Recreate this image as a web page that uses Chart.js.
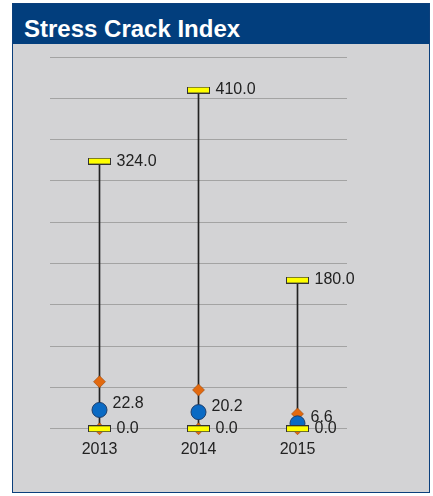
<!DOCTYPE html>
<html>
<head>
<meta charset="utf-8">
<script src="https://cdn.jsdelivr.net/npm/chart.js@4.4.1/dist/chart.umd.min.js"></script>
<style>
  body { margin: 0; background: #fff; font-family: "Liberation Sans", Arial, sans-serif; }
  #panel {
    position: absolute; left: 12px; top: 3px; width: 416px; height: 488px;
    border: 1px solid #0b3f7c; background: #d3d3d5;
  }
  #header {
    height: 40px; background: #023e7d; color: #fff; overflow: hidden;
    font-weight: bold; font-size: 24px; line-height: 50px; padding-left: 11px;
  }
  #wrap { position: absolute; left: 0; top: 40px; width: 416px; height: 448px; }
</style>
</head>
<body>
<div id="panel">
  <div id="header">Stress Crack Index</div>
  <div id="wrap"><canvas id="chart"></canvas></div>
</div>
<script>
// dữ liệu
const categories = ["2013", "2014", "2015"];
const maxValues = [324.0, 410.0, 180.0];
const minValues = [0.0, 0.0, 0.0];
const meanValues = [22.8, 20.2, 6.6];
const midValues = [57, 47, 18];
const yTicks = [0, 50, 100, 150, 200, 250, 300, 350, 400, 450];

// yellow bar marker
const barMark = document.createElement("canvas");
barMark.width = 23;
barMark.height = 7;
const bctx = barMark.getContext("2d");
bctx.fillStyle = "#ffff00";
bctx.fillRect(1, 1, 21, 5);
bctx.strokeStyle = "#333";
bctx.lineWidth = 1;
bctx.strokeRect(0.5, 0.5, 22, 6);

// labels next to markers
const valueLabels = {
  id: "valueLabels",
  afterDatasetsDraw(chart) {
    const ctx = chart.ctx;
    ctx.save();
    ctx.font = "16px 'Liberation Sans', Arial, sans-serif";
    ctx.fillStyle = "#222";
    ctx.textBaseline = "middle";
    chart.data.datasets.forEach((ds, i) => {
      if (!ds.showLabel) return;
      chart.getDatasetMeta(i).data.forEach((pt, j) => {
        ctx.fillText(ds.data[j].toFixed(1), pt.x + ds.labelDx, pt.y + ds.labelDy);
      });
    });
    ctx.restore();
  },
};

const chart = new Chart(document.getElementById("chart").getContext("2d"), {
  data: {
    labels: categories,
    datasets: [
      {
        type: "bar",
        data: categories.map((c, i) => [minValues[i], maxValues[i]]),
        backgroundColor: "#222",
        barThickness: 1,
        order: 3,
      },
      {
        type: "line",
        data: midValues,
        showLine: false,
        clip: false,
        pointStyle: "rectRot",
        pointRadius: 6,
        backgroundColor: "#e2690f",
        borderColor: "#8a3a00",
        borderWidth: 0.5,
        order: 2,
      },
      {
        type: "line",
        data: minValues,
        showLine: false,
        clip: false,
        pointStyle: "rectRot",
        pointRadius: 6,
        backgroundColor: "#e2690f",
        borderColor: "#8a3a00",
        borderWidth: 0.5,
        order: 2,
      },
      {
        type: "line",
        data: meanValues,
        showLine: false,
        clip: false,
        pointStyle: "circle",
        pointRadius: 7.5,
        backgroundColor: "#0a6ac4",
        borderColor: "#1d3d6a",
        borderWidth: 1,
        order: 1,
        showLabel: true,
        labelDx: 13,
        labelDy: -6,
      },
      {
        type: "line",
        data: maxValues,
        showLine: false,
        clip: false,
        pointStyle: barMark,
        order: 0,
        showLabel: true,
        labelDx: 17,
        labelDy: 0,
      },
      {
        type: "line",
        data: minValues,
        showLine: false,
        clip: false,
        pointStyle: barMark,
        order: 0,
        showLabel: true,
        labelDx: 17,
        labelDy: 0,
      },
    ],
  },
  options: {
    responsive: true,
    maintainAspectRatio: false,
    animation: false,
    layout: { padding: { left: 37, right: 82, top: 13, bottom: 30 } },
    plugins: { legend: { display: false }, tooltip: { enabled: false } },
    scales: {
      x: {
        offset: true,
        grid: { display: false },
        border: { display: false },
        ticks: {
          color: "#222",
          font: { size: 16, family: "'Liberation Sans', Arial, sans-serif" },
          padding: 3,
        },
      },
      y: {
        min: 0,
        max: 450,
        afterBuildTicks: (axis) => {
          axis.ticks = yTicks.map((v) => ({ value: v }));
        },
        afterFit: (axis) => {
          axis.width = 0;
        },
        grid: { color: "#a3a3a3", lineWidth: 1, drawTicks: false },
        border: { display: false },
        ticks: { display: false },
      },
    },
  },
  plugins: [valueLabels],
});
</script>
</body>
</html>
